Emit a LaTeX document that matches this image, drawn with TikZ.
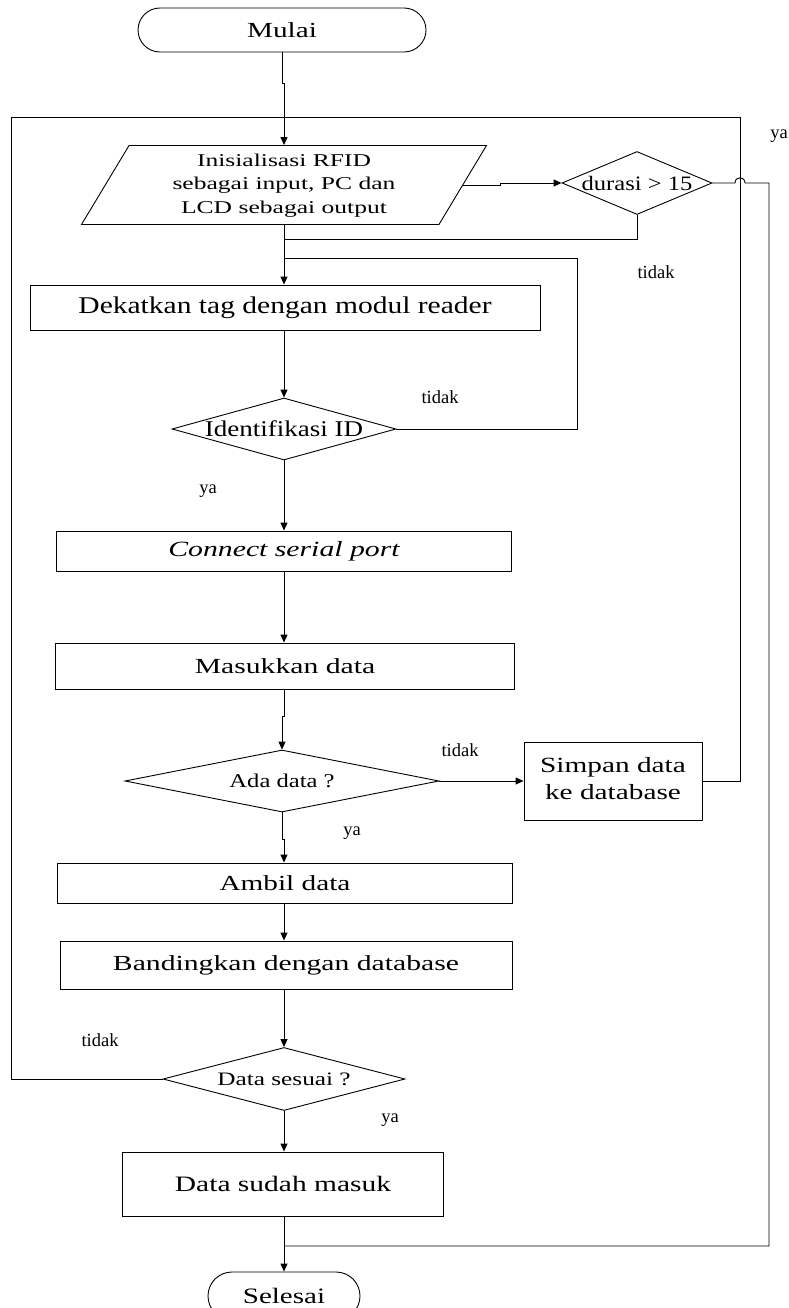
\documentclass[tikz,border=0pt]{standalone}
\usepackage{graphicx}
\usepackage{fontspec}
\setmainfont{Liberation Serif}
\usetikzlibrary{arrows.meta,shapes.geometric}
% size, baselineskip, horizontal stretch, text
\newcommand{\sx}[4]{{\fontsize{#1}{#2}\selectfont\scalebox{#3}[1]{#4}}}
\newcommand{\dx}[3]{\makebox[0pt]{\sx{#1}{#1}{#2}{#3}}}
\begin{document}
\begin{tikzpicture}[x=1pt,y=-1pt,line width=0.9pt,
  box/.style={draw,fill=white,rectangle,inner sep=0pt},
  term/.style={draw,fill=white,rectangle,inner sep=0pt},
  dec/.style={draw,fill=white,diamond,inner sep=0pt},
  para/.style={draw,fill=white,trapezium,trapezium left angle=56,trapezium right angle=124,
    trapezium stretches body,inner sep=0pt},
  arr/.style={-{Triangle[length=8pt,width=7pt]}},
  lbl/.style={inner sep=0pt,font=\fontsize{18.5}{18.5}\selectfont}]
\useasboundingbox (0,0) rectangle (788,1308);
\clip (0,0) rectangle (788,1308);

% junction coordinates
\coordinate (mx) at (284,0);
\coordinate (j117) at (284,117);
\coordinate (j239) at (284,239);
\coordinate (j258) at (284,258);
\coordinate (j1246) at (284,1246);
\coordinate (tl) at (11,117);
\coordinate (tr) at (740,117);
\coordinate (c577) at (577,258);
\coordinate (hopa) at (735,183);
\coordinate (hopb) at (745,183);
\coordinate (rb) at (769,1246);

% nodes
\node[term,rounded corners=22pt,minimum width=288,minimum height=44] (mulai) at (282,30) {\sx{21.5}{21.5}{1.36}{Mulai}};
\node[para,minimum width=405,minimum height=79] (init) at (284,185)
  {\makebox[0pt]{\sx{18}{23.5}{1.42}{\begin{tabular}{@{}c@{}}Inisialisasi RFID\\ sebagai input, PC dan\\ LCD sebagai output\end{tabular}}}};
\node[dec,minimum width=150,minimum height=63,aspect=2.4] (durasi) at (637,183) {\dx{20.5}{1.2}{durasi > 15}};
\node[box,minimum width=510,minimum height=45] (dekat) at (285,307.5) {\sx{24}{24}{1.23}{Dekatkan tag dengan modul reader}};
\node[dec,minimum width=224,minimum height=62,aspect=3.6] (ident) at (284,429) {\dx{22.5}{1.2}{Identifikasi ID}};
\node[box,minimum width=455,minimum height=40] (connect) at (284,551) {\sx{21.7}{21.7}{1.37}{\itshape Connect serial port}};
\node[box,minimum width=459,minimum height=46] (masuk) at (285,666) {\sx{21.5}{21.5}{1.38}{Masukkan data}};
\node[dec,minimum width=314,minimum height=62,aspect=5] (ada) at (282,781) {\dx{19.5}{1.26}{Ada data ?}};
\node[box,minimum width=178,minimum height=78] (simpan) at (613,781)
  {\sx{21.7}{27}{1.35}{\begin{tabular}{@{}c@{}}Simpan data\\ ke database\end{tabular}}};
\node[box,minimum width=455,minimum height=40] (ambil) at (285,883) {\sx{21.5}{21.5}{1.36}{Ambil data}};
\node[box,minimum width=452,minimum height=48] (banding) at (286,965) {\sx{21.5}{21.5}{1.38}{Bandingkan dengan database}};
\node[dec,minimum width=242,minimum height=63,aspect=3.8] (sesuai) at (284,1079) {\dx{19}{1.33}{Data sesuai ?}};
\node[box,minimum width=321,minimum height=64] (sudah) at (283,1184) {\sx{22}{22}{1.34}{Data sudah masuk}};
\node[term,rounded corners=24pt,minimum width=152,minimum height=48] (selesai) at (284,1296) {\sx{22}{22}{1.32}{Selesai}};

% labels
\node[lbl] (l1) at (779,136) {ya};
\node[lbl] (l2) at (656,272) {tidak};
\node[lbl] (l3) at (440,397) {tidak};
\node[lbl] (l4) at (208,491) {ya};
\node[lbl] (l5) at (460,750) {tidak};
\node[lbl] (l6) at (352,833) {ya};
\node[lbl] (l7) at (100,1040) {tidak};
\node[lbl] (l8) at (390,1120) {ya};

% connectors
\draw[arr] (mulai.south) -- ++(0,31) -- ++(2,0) coordinate (j0) -- (j0 |- init.top side);
\draw[arr] (mx |- init.bottom side) -- (dekat.north -| mx);
\draw[arr] (init.right side) -- ++(37,0) |- (durasi.west);
\draw (durasi.south) |- (j239);
\draw (ident.east) -| (c577) -- (j258);
\draw[arr] (dekat.south -| mx) -- (ident.north);
\draw[arr] (ident.south) -- (connect.north);
\draw[arr] (connect.south) -- (masuk.north -| mx);
\draw[arr] (masuk.south -| mx) -- ++(0,27) -| (ada.north);
\draw[arr] (ada.east) -- (simpan.west);
\draw[arr] (ada.south) -- ++(0,27) -| (ambil.north -| mx);
\draw[arr] (ambil.south -| mx) -- (banding.north -| mx);
\draw[arr] (banding.south -| mx) -- (sesuai.north);
\draw[arr] (sesuai.south) -- (sudah.north -| mx);
\draw[arr] (sudah.south -| mx) -- (selesai.north);
\draw (sesuai.west) -| (tl) -- (tr) |- (simpan.east);
\draw (durasi.east) -- (hopa) .. controls (735,176) and (745,176) .. (hopb) -| (rb) -- (j1246);
\end{tikzpicture}
\end{document}
